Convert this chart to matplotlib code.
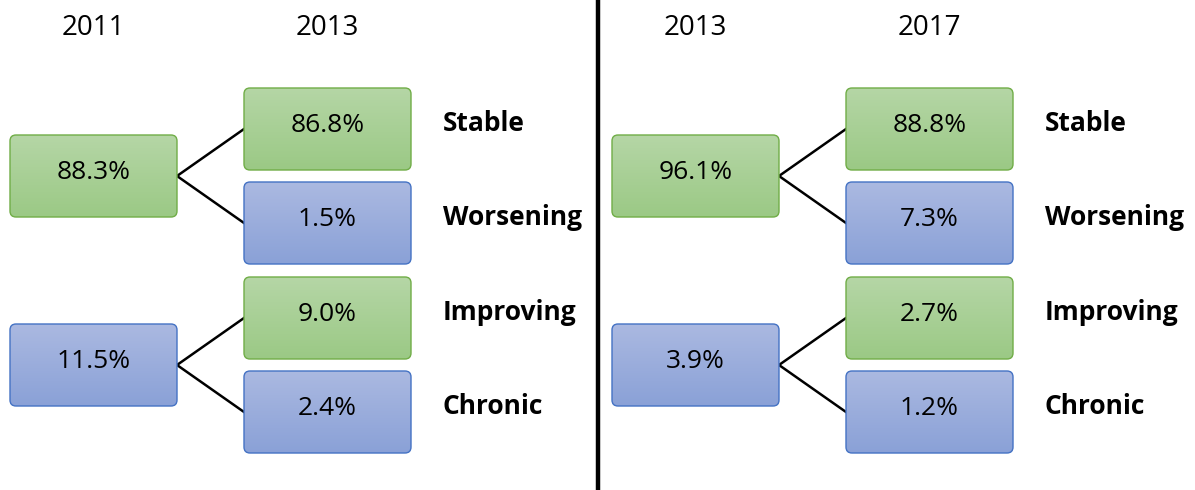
import numpy as np
import matplotlib.pyplot as plt
from matplotlib.patches import FancyBboxPatch
from matplotlib.colors import LinearSegmentedColormap

plt.rcParams['font.family'] = ['Open Sans', 'DejaVu Sans']

# data
panel_years = [('2011', '2013'), ('2013', '2017')]
parent_values = [[88.3, 11.5], [96.1, 3.9]]
child_values = [[86.8, 1.5, 9.0, 2.4], [88.8, 7.3, 2.7, 1.2]]
outcomes = ['Stable', 'Worsening', 'Improving', 'Chronic']
parent_kind = ['good', 'bad']
child_kind = ['good', 'bad', 'good', 'bad']

styles = {
    'good': dict(top='#b5d6a6', bottom='#9bc985', edge='#70ad47'),
    'bad': dict(top='#abb9e1', bottom='#8aa1d7', edge='#4472c4'),
}

fig = plt.figure(figsize=(11.95, 4.9), dpi=100)
ax = fig.add_axes([0, 0, 1, 1])
ax.set_xlim(0, 1195)
ax.set_ylim(490, 0)
ax.axis('off')


def box(x, y, w, h, kind, text):
    st = styles[kind]
    patch = FancyBboxPatch((x, y), w, h, boxstyle='round,pad=0,rounding_size=6',
                           facecolor='none', edgecolor=st['edge'], linewidth=1.0, zorder=3)
    ax.add_patch(patch)
    cmap = LinearSegmentedColormap.from_list('g', [st['top'], st['bottom']])
    grad = np.linspace(0, 1, 100).reshape(-1, 1)
    im = ax.imshow(grad, cmap=cmap, extent=(x, x + w, y + h, y), aspect='auto',
                   zorder=2, interpolation='bilinear')
    im.set_clip_path(patch)
    ax.text(x + w / 2, y + h / 2 - 4, text, ha='center', va='center', fontsize=19, zorder=4)


bw, bh = 167, 82
parent_y = [135, 324]
child_y = [88, 182, 277, 371]

for p in range(2):
    off = p * 602
    px, cx = 10 + off, 244 + off
    ax.text(px + bw / 2, 28, panel_years[p][0], ha='center', va='center', fontsize=20)
    ax.text(cx + bw / 2, 28, panel_years[p][1], ha='center', va='center', fontsize=20)
    for i in range(2):
        box(px, parent_y[i], bw, bh, parent_kind[i], f'{parent_values[p][i]:.1f}%')
        my = parent_y[i] + bh / 2
        for j in (2 * i, 2 * i + 1):
            ax.plot([px + bw, cx], [my, child_y[j] + bh / 2], color='black', lw=1.8, zorder=1)
    for j in range(4):
        box(cx, child_y[j], bw, bh, child_kind[j], f'{child_values[p][j]:.1f}%')
        ax.text(cx + 199, child_y[j] + bh / 2 - 6, outcomes[j], ha='left', va='center',
                fontsize=19, fontweight='bold')

ax.plot([598, 598], [0, 490], color='black', lw=3.2, zorder=1)

fig.savefig('out.png', dpi=100)
